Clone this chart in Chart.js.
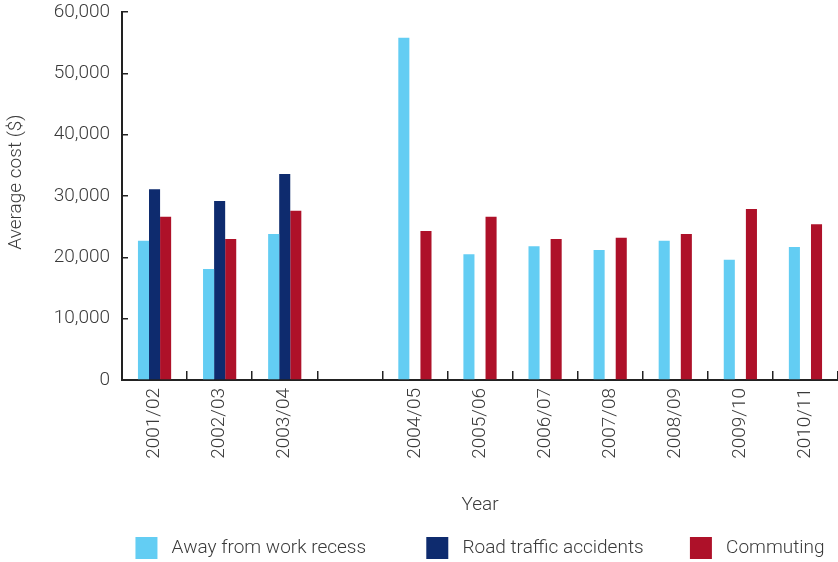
<!DOCTYPE html>
<html>
<head>
<meta charset="utf-8">
<script src="https://cdn.jsdelivr.net/npm/chart.js@4"></script>
<style>
  html, body { margin: 0; padding: 0; background: #fff; }
  #wrap { width: 838px; height: 562px; position: relative; }
</style>
</head>
<body>
<div id="wrap"><canvas id="costChart"></canvas></div>
<script>
// Data
var years = ['2001/02', '2002/03', '2003/04', '', '2004/05', '2005/06', '2006/07', '2007/08', '2008/09', '2009/10', '2010/11'];
var awayFromWork = [22700, 18100, 23800, null, 55800, 20500, 21800, 21200, 22700, 19600, 21700];
var roadTraffic = [31100, 29200, 33600, null, null, null, null, null, null, null, null];
var commuting = [26600, 23000, 27600, null, 24300, 26600, 23000, 23200, 23800, 27900, 25400];
var yTicks = [0, 10000, 20000, 30000, 40000, 50000, 60000];

var textColor = '#3a3a3a';
var axisColor = '#222222';
var font = { family: "Roboto, 'Liberation Sans', sans-serif", size: 19, weight: '300' };

// shrink the legend box so it sits right under the axis title
var legendHeight = {
    id: 'legendHeight',
    beforeInit: function (chart) {
        var fit = chart.legend.fit;
        chart.legend.fit = function () {
            fit.bind(chart.legend)();
            this.height = 25;
        };
    }
};

Chart.defaults.font = font;
Chart.defaults.color = textColor;

var ctx = document.getElementById('costChart').getContext('2d');
var costChart = new Chart(ctx, {
    type: 'bar',
    data: {
        labels: years,
        datasets: [{
            label: ' Away from work recess             ',
            data: awayFromWork,
            backgroundColor: '#63cdf3'
        }, {
            label: ' Road traffic accidents          ',
            data: roadTraffic,
            backgroundColor: '#0e2b6e'
        }, {
            label: ' Commuting',
            data: commuting,
            backgroundColor: '#ae1129'
        }]
    },
    options: {
        responsive: true,
        maintainAspectRatio: false,
        animation: false,
        layout: { padding: 0 },
        datasets: {
            bar: { categoryPercentage: 0.51, barPercentage: 1.0 }
        },
        plugins: {
            legend: {
                position: 'bottom',
                fullSize: false,
                labels: {
                    boxWidth: 22,
                    boxHeight: 22,
                    padding: 0,
                    color: textColor,
                    font: font
                }
            },
            tooltip: { enabled: false }
        },
        scales: {
            x: {
                grid: {
                    offset: true,
                    drawOnChartArea: false,
                    tickLength: -9,
                    color: axisColor,
                    lineWidth: 1.5
                },
                border: { color: axisColor, width: 2 },
                ticks: {
                    minRotation: 90,
                    maxRotation: 90,
                    autoSkip: false,
                    padding: 17,
                    color: textColor,
                    font: font
                },
                title: {
                    display: true,
                    text: 'Year',
                    color: textColor,
                    font: font,
                    padding: { top: 0, bottom: 20 }
                },
                afterFit: function (scale) {
                    scale.height = 157;
                    scale.paddingLeft = 0;
                    scale.paddingRight = 0;
                }
            },
            y: {
                min: 0,
                max: 60000,
                afterBuildTicks: function (scale) {
                    scale.ticks = yTicks.map(function (v) { return { value: v }; });
                },
                grid: {
                    drawOnChartArea: false,
                    tickLength: -6,
                    color: axisColor,
                    lineWidth: 1.5
                },
                border: { color: axisColor, width: 2 },
                ticks: {
                    padding: 18,
                    color: textColor,
                    font: font,
                    callback: function (v) { return Number(v).toLocaleString('en-US'); }
                },
                title: {
                    display: true,
                    text: '      Average cost ($)',
                    color: textColor,
                    font: font,
                    padding: { top: 5, bottom: 0 }
                },
                afterFit: function (scale) {
                    scale.width = 122;
                    scale.paddingTop = 12;
                    scale.paddingBottom = 0;
                }
            }
        }
    },
    plugins: [legendHeight]
});
</script>
</body>
</html>
